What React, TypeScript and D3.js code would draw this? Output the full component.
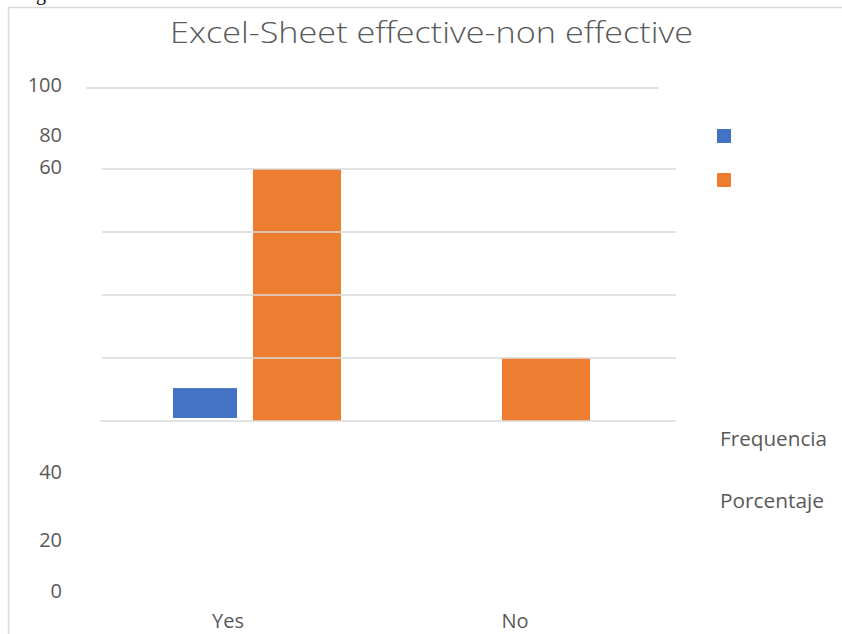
import React from "react";
import * as d3 from "d3";

const categories = ["Yes", "No"];
const seriesNames = ["Frequencia", "Porcentaje"];
const frequencia = [9.5, 0];
const porcentaje = [80, 20];
const gridValues = [0, 20, 40, 60, 80];
const tickLabels = ["100", "80", "60", "40", "20", "0"];

const W = 842;
const H = 634;
const FONT = "'Open Sans', 'DejaVu Sans', sans-serif";
const TEXT = "#595959";
const GRID = "#d9d9d9";
const COLORS = ["#4472c4", "#ed7d31"];

// layout (positions of the oddly placed labels in the reference)
const tickLabelY = [84, 134, 166, 471, 539, 590];
const seriesOffset = [45, 125];
const seriesWidth = [64, 88];
const seriesBottomShift = [3, 0];
const legendSwatchY = [129, 173];
const legendTextY = [446, 508];
const legendTextLen = [107, 104];

export default function App() {
  const x = d3.scaleBand<string>().domain(categories).range([128, 626]).padding(0);
  const y = d3.scaleLinear().domain([0, 80]).range([421, 169]);
  const seriesData = [frequencia, porcentaje];
  const gridStart = (v: number) => (v === 0 ? 100 : 102);

  return (
    <svg
      width={W}
      height={H}
      style={{ position: "absolute", left: 0, top: 0, background: "#fff" }}
      fontFamily={FONT}
    >
      <rect x={0} y={0} width={W} height={H} fill="#fff" />
      <text x={36} y={0} fontFamily="'Liberation Serif', serif" fontSize={20} fill="#000">
        g
      </text>
      {/* chart frame */}
      <line x1={8} x2={W} y1={7.5} y2={7.5} stroke={GRID} strokeWidth={1.5} />
      <line x1={8.5} x2={8.5} y1={7} y2={H} stroke={GRID} strokeWidth={1.5} />

      <text
        x={170}
        y={43}
        fontSize={29}
        fill={TEXT}
        fontWeight={300}
        textLength={523}
        lengthAdjust="spacingAndGlyphs"
      >
        Excel-Sheet effective-non effective
      </text>

      {/* bars */}
      {seriesData.map((vals, si) =>
        categories.map((c, ci) => {
          const v = vals[ci];
          if (!v) return null;
          const h = y(0) - y(v);
          return (
            <rect
              key={`${si}-${ci}`}
              x={(x(c) ?? 0) + seriesOffset[si]}
              y={y(v) - seriesBottomShift[si]}
              width={seriesWidth[si]}
              height={h}
              fill={COLORS[si]}
            />
          );
        })
      )}

      {/* gridlines */}
      {gridValues.map((v) => (
        <line
          key={v}
          x1={gridStart(v)}
          x2={676}
          y1={y(v)}
          y2={y(v)}
          stroke={GRID}
          strokeWidth={1.5}
        />
      ))}
      <line x1={86} x2={659} y1={88} y2={88} stroke={GRID} strokeWidth={1.5} />

      {/* tick labels */}
      {tickLabels.map((t, i) => (
        <text
          key={t}
          x={62}
          y={tickLabelY[i]}
          textAnchor="end"
          dominantBaseline="central"
          fontSize={20}
          fill={TEXT}
        >
          {t}
        </text>
      ))}

      {/* category labels */}
      {categories.map((c) => (
        <text
          key={c}
          x={(x(c) ?? 0) + (c === "Yes" ? 100 : 138)}
          y={628}
          textAnchor="middle"
          fontSize={20}
          fill={TEXT}
        >
          {c}
        </text>
      ))}

      {/* legend */}
      {seriesNames.map((s, i) => (
        <g key={s}>
          <rect x={717} y={legendSwatchY[i]} width={14} height={14} fill={COLORS[i]} />
          <text
            x={720}
            y={legendTextY[i]}
            fontSize={20}
            fill={TEXT}
            textLength={legendTextLen[i]}
            lengthAdjust="spacingAndGlyphs"
          >
            {s}
          </text>
        </g>
      ))}
    </svg>
  );
}
